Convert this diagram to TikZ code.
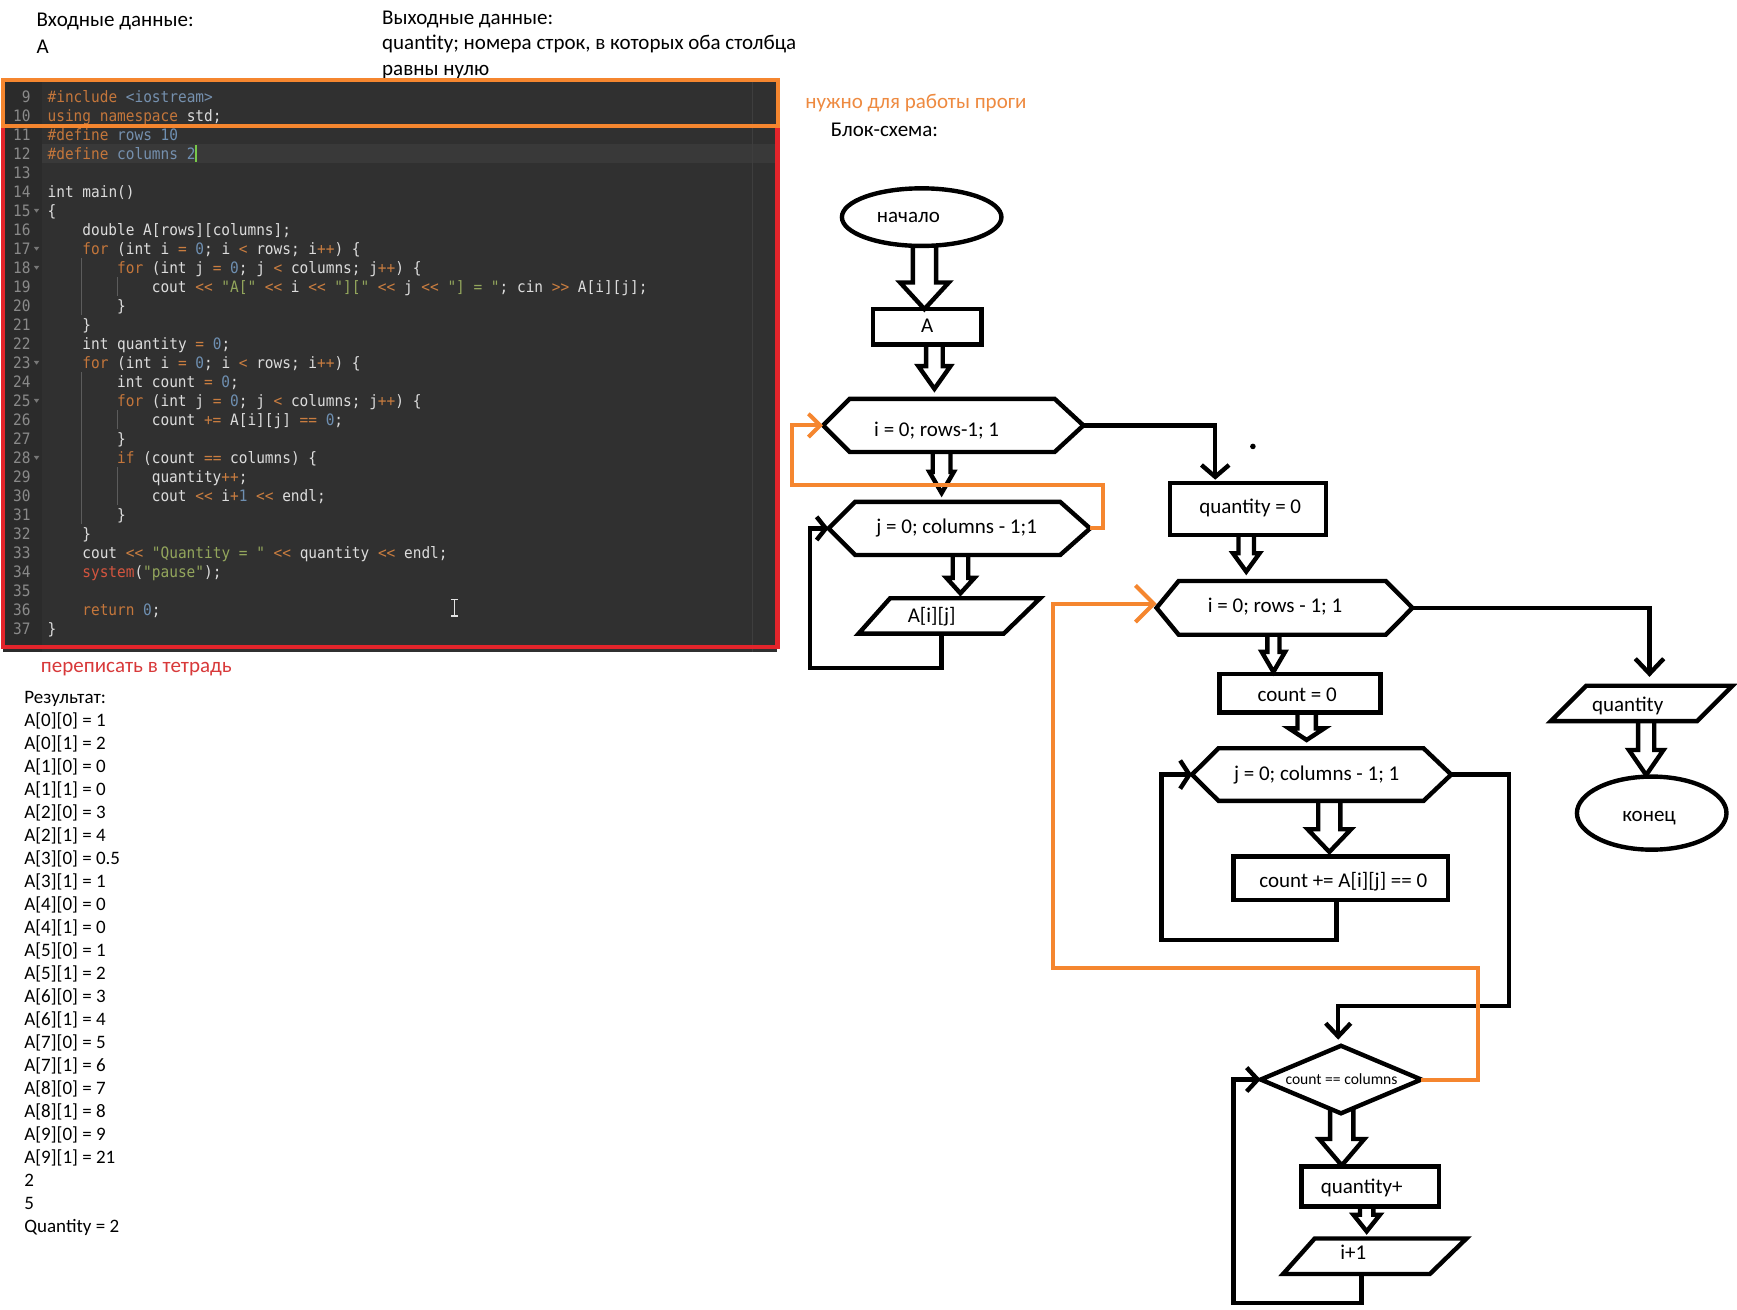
\documentclass[tikz,border=0pt]{standalone}
\usepackage{fontspec}
\setmainfont{Carlito}
\setmonofont{DejaVu Sans Mono}[FakeStretch=0.92]
\usetikzlibrary{calc,arrows.meta,shapes.geometric}

% one unit of the drawing grid
\newcommand\pxu{0.5539pt}

\definecolor{codebg}{HTML}{303030}
\definecolor{gutterbg}{HTML}{2B2B2B}
\definecolor{hlrow}{HTML}{393939}
\definecolor{ruler}{HTML}{3E3E3E}
\definecolor{lnum}{HTML}{8A8A8A}
\definecolor{foldc}{HTML}{777777}
\definecolor{guide}{HTML}{5C5C5C}
\definecolor{cfg}{HTML}{DCDCDC}
\definecolor{ckw}{HTML}{C4763B}
\definecolor{cop}{HTML}{C97D40}
\definecolor{cnum}{HTML}{6E8FB1}
\definecolor{cmac}{HTML}{7590AE}
\definecolor{cstr}{HTML}{93A65C}
\definecolor{csys}{HTML}{D4553F}
\definecolor{ccur}{HTML}{78C84A}
\definecolor{orng}{HTML}{F5862F}
\definecolor{rd}{HTML}{E3242B}
\definecolor{orngtxt}{HTML}{EE8A40}
\definecolor{rdtxt}{HTML}{D8393A}

% syntax highlighting
\newcommand\hlK[1]{\textcolor{ckw}{#1}}
\newcommand\hlO[1]{\textcolor{cop}{#1}}
\newcommand\hlN[1]{\textcolor{cnum}{#1}}
\newcommand\hlS[1]{\textcolor{cstr}{#1}}
\newcommand\hlM[1]{\textcolor{cmac}{#1}}
\newcommand\hlR[1]{\textcolor{csys}{#1}}

% a source line: number, indent column, text
\newcommand\codeline[3]{\node[code] (cl#1) at ({43+#2*7.84},{87+(#1-9)*17.16}) {#3};}

% hexagon drawn on a node box: node, left chamfer, right chamfer
\newcommand\hexa[3]{\draw[fcline] (#1.west) -- ([xshift=#2*\pxu]#1.north west) -- ([xshift=-#3*\pxu]#1.north east) -- (#1.east) -- ([xshift=-#3*\pxu]#1.south east) -- ([xshift=#2*\pxu]#1.south west) -- cycle;}

% parallelogram drawn on a node box: node, left slant, right slant
\newcommand\para[3]{\draw[fcline] ([xshift=#2*\pxu]#1.north west) -- (#1.north east) -- ([xshift=-#3*\pxu]#1.south east) -- (#1.south west) -- cycle;}

% hollow block arrow: from, to, x offset, shaft half width, head half width, head length
\newcommand\hollow[6]{\draw[fcline] let \p1=(#1), \p2=(#2) in
  ({\x1+(#3-#4)*\pxu},\y1) -- ({\x1+(#3-#4)*\pxu},{\y2+#6*\pxu})
  -- ({\x1+(#3-#5)*\pxu},{\y2+#6*\pxu}) -- ({\x1+(#3)*\pxu},\y2)
  -- ({\x1+(#3+#5)*\pxu},{\y2+#6*\pxu}) -- ({\x1+(#3+#4)*\pxu},{\y2+#6*\pxu})
  -- ({\x1+(#3+#4)*\pxu},\y1);}

\begin{document}
\begin{tikzpicture}[x=0.5539pt, y=-0.5539pt,
  txt/.style={inner sep=0pt, outer sep=0pt, anchor=west, text height=0.72em, text depth=0.18em},
  toptxt/.style={txt, font=\fontsize{10.5}{12}\selectfont},
  restxt/.style={txt, font=\fontsize{9.5}{11}\selectfont},
  code/.style={inner sep=0pt, outer sep=0pt, anchor=west, text=cfg, font=\ttfamily\fontsize{7.85}{9}\selectfont, text height=0.75em, text depth=0.15em},
  lnumtxt/.style={code, anchor=east, text=lnum},
  fcline/.style={line width=2.2pt, draw=black, line join=miter},
  orline/.style={line width=2pt, draw=orng, line join=miter},
  sb/.style={inner sep=0pt, outer sep=0pt},
  wh/.style 2 args={minimum width=#1*\pxu, minimum height=#2*\pxu},
  fl/.style={inner sep=0pt, outer sep=0pt, font=\fontsize{10.5}{12}\selectfont, text height=0.72em, text depth=0.18em},
  tipb/.style 2 args={-{Straight Barb[length=#1,width=#2]}},
]
\fill[white] (0,0) rectangle (1568,1182);
\useasboundingbox (0,0) rectangle (1568,1182);

% ---------- headings ----------
\node[toptxt] (inhead) at (33,19) {Входные данные:};
\node[toptxt] (inval) at (33,43) {A};
\node[toptxt] (outhead) at (345,17) {Выходные данные:};
\node[toptxt] (outval1) at (345,40) {quantity; номера строк, в которых оба столбца};
\node[toptxt] (outval2) at (345,63) {равны нулю};

% ---------- editor panel ----------
\fill[codebg] (3,73) rectangle (701,589);
\fill[gutterbg] (3,73) rectangle (38,589);
\fill[hlrow] (38,130) rectangle (701,147);
\draw[ruler, line width=0.6pt] (679,73) -- (679,589);

\foreach \n in {9,...,37}
  \node[lnumtxt] (ln\n) at (27.5,{87+(\n-9)*17.16}) {\n};
\foreach \n in {15,17,18,23,25,28}
  \fill[foldc] (30.5,{87+(\n-9)*17.16-1.5}) -- (35.5,{87+(\n-9)*17.16-1.5}) -- (33,{87+(\n-9)*17.16+2}) -- cycle;

% indent guides
\draw[guide, line width=0.5pt] (74,233) -- (74,284);
\draw[guide, line width=0.5pt] (105.7,250) -- (105.7,267);
\draw[guide, line width=0.5pt] (74,336) -- (74,473);
\draw[guide, line width=0.5pt] (105.7,370) -- (105.7,387);
\draw[guide, line width=0.5pt] (105.7,422) -- (105.7,456);

\codeline{9}{0}{\hlK{\#include} \hlM{<iostream>}}
\codeline{10}{0}{\hlK{using namespace} std;}
\codeline{11}{0}{\hlK{\#define} \hlM{rows} \hlN{10}}
\codeline{12}{0}{\hlK{\#define} \hlM{columns} \hlN{2}}
\codeline{14}{0}{int main()}
\codeline{15}{0}{\{}
\codeline{16}{4}{double A[rows][columns];}
\codeline{17}{4}{\hlK{for} (int i \hlO{=} \hlN{0}; i \hlO{<} rows; i\hlO{++}) \{}
\codeline{18}{8}{\hlK{for} (int j \hlO{=} \hlN{0}; j \hlO{<} columns; j\hlO{++}) \{}
\codeline{19}{12}{cout \hlO{<<} \hlS{"A["} \hlO{<<} i \hlO{<<} \hlS{"]["} \hlO{<<} j \hlO{<<} \hlS{"] = "}; cin \hlO{>>} A[i][j];}
\codeline{20}{8}{\}}
\codeline{21}{4}{\}}
\codeline{22}{4}{int quantity \hlO{=} \hlN{0};}
\codeline{23}{4}{\hlK{for} (int i \hlO{=} \hlN{0}; i \hlO{<} rows; i\hlO{++}) \{}
\codeline{24}{8}{int count \hlO{=} \hlN{0};}
\codeline{25}{8}{\hlK{for} (int j \hlO{=} \hlN{0}; j \hlO{<} columns; j\hlO{++}) \{}
\codeline{26}{12}{count \hlO{+=} A[i][j] \hlO{==} \hlN{0};}
\codeline{27}{8}{\}}
\codeline{28}{8}{\hlK{if} (count \hlO{==} columns) \{}
\codeline{29}{12}{quantity\hlO{++};}
\codeline{30}{12}{cout \hlO{<<} i\hlO{+}\hlN{1} \hlO{<<} endl;}
\codeline{31}{8}{\}}
\codeline{32}{4}{\}}
\codeline{33}{4}{cout \hlO{<<} \hlS{"Quantity = "} \hlO{<<} quantity \hlO{<<} endl;}
\codeline{34}{4}{\hlR{system}(\hlS{"pause"});}
\codeline{36}{4}{\hlK{return} \hlN{0};}
\codeline{37}{0}{\}}

% text cursor and mouse I-beam
\draw[ccur, line width=1pt] (176.5,131) -- (176.5,146);
\draw[cfg!80, line width=0.6pt] (410,541) -- (410,556) (407,541) -- (413,541) (407,556) -- (413,556);

% frames
\draw[rd, line width=2.2pt] (2.5,114) rectangle (702,584);
\draw[orng, line width=2pt] (2.5,72.5) rectangle (702,114);

% notes
\node[txt, text=orngtxt, font=\fontsize{10.5}{12}\selectfont] (note1) at (727,93) {нужно для работы проги};
\node[txt, font=\fontsize{10.5}{12}\selectfont] (bshead) at (750,118) {Блок-схема:};
\node[txt, text=rdtxt, font=\fontsize{10.5}{12}\selectfont] (note2) at (37,602) {переписать в тетрадь};

% ---------- program output ----------
\foreach \t [count=\i from 0] in {Результат:, A[0][0] = 1, A[0][1] = 2, A[1][0] = 0, A[1][1] = 0, A[2][0] = 3, A[2][1] = 4, A[3][0] = 0.5, A[3][1] = 1, A[4][0] = 0, A[4][1] = 0, A[5][0] = 1, A[5][1] = 2, A[6][0] = 3, A[6][1] = 4, A[7][0] = 5, A[7][1] = 6, A[8][0] = 7, A[8][1] = 8, A[9][0] = 9, A[9][1] = 21, 2, 5, Quantity = 2}
  \node[restxt] (res\i) at (22,{630+\i*20.78}) {\t};

% ---------- flowchart: blocks ----------
\node[ellipse, draw, fcline, sb, wh={144}{52}] (start) at (832,196) {};
\node[fl] (startt) at (820,195.6) {начало};
\node[draw, fcline, sb, wh={98}{32}] (A) at (837,295) {};
\node[fl] (At) at (837,295) {A};
\node[sb, wh={235}{48}] (hexI) at (860.5,384) {};
\node[fl] (hexIt) at (845.5,389) {i = 0; rows-1; 1};
\node[sb, wh={236}{48}] (hexJ) at (866,477) {};
\node[fl] (hexJt) at (863.6,477) {j = 0; columns - 1;1};
\node[sb, wh={164}{32}] (Aij) at (857,556) {};
\node[fl] (Aijt) at (841,557) {A[i][j]};
\node[draw, fcline, sb, wh={141}{47}] (q0) at (1126.5,459.5) {};
\node[fl] (q0t) at (1128.6,459) {quantity = 0};
\node[sb, wh={231}{48.5}] (hexI2) at (1159.5,548.7) {};
\node[fl] (hexI2t) at (1151,548) {i = 0; rows - 1; 1};
\node[draw, fcline, sb, wh={145}{35}] (count0) at (1173.5,625.7) {};
\node[fl] (count0t) at (1171,628) {count = 0};
\node[sb, wh={234}{47.5}] (hexJ2) at (1193,699.2) {};
\node[fl] (hexJ2t) at (1188.6,700) {j = 0; columns - 1; 1};
\node[draw, fcline, sb, wh={194}{39.5}] (cplus) at (1210.3,792.8) {};
\node[fl] (cplust) at (1212.6,796) {count += A[i][j] == 0};
\node[sb, wh={145}{61}] (cond) at (1210.5,974.5) {};
\node[fl, font=\fontsize{7.8}{9}\selectfont] (condt) at (1211,974) {count == columns};
\node[draw, fcline, sb, wh={124}{36}] (qplus) at (1237,1071) {};
\node[fl] (qplust) at (1229.2,1072.4) {quantity+};
\node[sb, wh={165.5}{32}] (ip1) at (1241,1134) {};
\node[fl] (ip1t) at (1221.7,1131.8) {i+1};
\node[sb, wh={164}{32}] (qout) at (1482,635) {};
\node[fl] (qoutt) at (1469.3,637.3) {quantity};
\node[ellipse, draw, fcline, sb, wh={135}{66}] (finish) at (1491,734) {};
\node[fl] (finisht) at (1488.6,736.6) {конец};

\hexa{hexI}{24}{26}
\hexa{hexJ}{24}{27}
\hexa{hexI2}{20}{24}
\hexa{hexJ2}{24}{25}
\para{Aij}{28.5}{33}
\para{ip1}{28.5}{33}
\para{qout}{32}{32}
\draw[fcline] (cond.north) -- (cond.east) -- (cond.south) -- (cond.west) -- cycle;

% ---------- flowchart: block arrows ----------
\hollow{start.south}{A.north}{2.5}{10.5}{22}{24}
\hollow{A.south}{[yshift=9*\pxu]hexI.north}{6.5}{7.5}{14.5}{20.5}
\hollow{hexI.south}{[yshift=8*\pxu]hexJ.north}{-10.5}{8}{11}{19}
\hollow{hexJ.south}{[yshift=4.4*\pxu]Aij.north}{1}{7}{12.7}{14}
\hollow{q0.south}{[yshift=8.5*\pxu]hexI2.north}{-1.5}{7}{12}{16.5}
\hollow{hexI2.south}{[yshift=1.7*\pxu]count0.north}{-10}{5.5}{10.5}{18}
\hollow{count0.south}{[yshift=7.5*\pxu]hexJ2.north}{6}{8.3}{16}{10.5}
\hollow{hexJ2.south}{[yshift=4*\pxu]cplus.north}{7}{10}{19.6}{20.5}
\hollow{[yshift=4*\pxu]cond.south}{[yshift=1*\pxu]qplus.north}{0.7}{10.5}{20.3}{23.8}
\hollow{qplus.south}{[yshift=6.5*\pxu]ip1.north}{-3.3}{6}{12}{15}
\hollow{qout.south}{[yshift=1.4*\pxu]finish.north}{4}{7.3}{15.6}{22.6}

% ---------- flowchart: line connectors ----------
\draw[fcline, tipb={5.9pt}{13.8pt}] (hexI.east) -| ([xshift=-29.5*\pxu, yshift=3*\pxu]q0.north);
\draw[fcline, tipb={7.5pt}{14.2pt}] (hexI2.east) -| ([xshift=7*\pxu, yshift=8*\pxu]qout.north);
\draw[fcline, tipb={6.6pt}{12.5pt}] (hexJ2.east) -| (1362,908) -| ([xshift=-2.5*\pxu, yshift=5.5*\pxu]cond.north);

% loop returns
\draw[fcline, tipb={4.6pt}{11.6pt}] ([xshift=-7*\pxu]Aij.south) |- (731,603) |- (hexJ.west);
\draw[fcline, tipb={4.6pt}{14.1pt}] ([xshift=-3.7*\pxu]cplus.south) |- (1048.6,848.5) |- (hexJ2.west);
\draw[fcline, tipb={5.5pt}{11.9pt}] ([xshift=-12*\pxu]ip1.south) |- (1113.3,1176) |- (cond.west);

% loop exits back to the outer loops
\draw[orline, tipb={5.9pt}{11.6pt}] (hexJ.east) -| (996,437.8) -| (714.7,384) -- (hexI.west);
\draw[orline, tipb={9.1pt}{18.3pt}] (cond.east) -| (1334.5,873.9) -| (950.2,545) -- ([yshift=3.7*\pxu]hexI2.west);

% stray dot
\fill (1131,403) circle[radius=1.4pt];
\end{tikzpicture}
\end{document}
